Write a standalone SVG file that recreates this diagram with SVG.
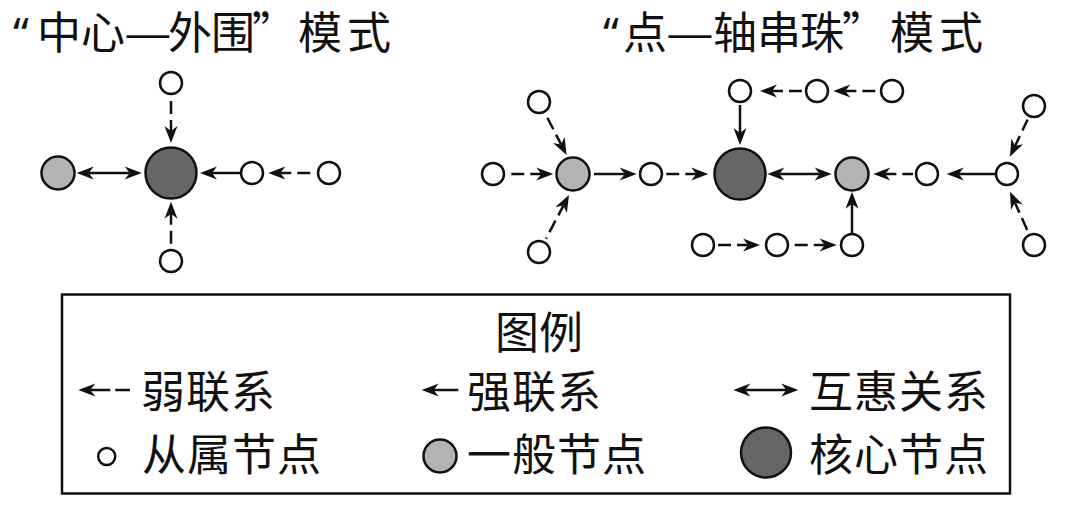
<svg xmlns="http://www.w3.org/2000/svg" width="1080" height="508" viewBox="0 0 1080 508">
<style>
text{font-family:"Noto Sans CJK SC","Noto Sans",sans-serif;fill:#111;font-size:44px}
text.lat{font-family:"Noto Sans","Liberation Sans",sans-serif}
.sub{fill:#fff;stroke:#111;stroke-width:2.5}
.gen{fill:#b3b3b3;stroke:#111;stroke-width:2.5}
.core{fill:#666;stroke:#111;stroke-width:2.5}
.strong{stroke:#111;stroke-width:2.5;fill:none;marker-end:url(#ah)}
.weak{stroke:#111;stroke-width:2.5;fill:none;stroke-dasharray:11 6 13 6;marker-start:url(#ah)}
.weak.key{stroke-dasharray:20 5 15 5}
.mutual{stroke:#111;stroke-width:2.5;fill:none;marker-start:url(#ah);marker-end:url(#ah)}
</style>
<defs>
<marker id="ah" markerUnits="userSpaceOnUse" viewBox="-6 -7 19 14" refX="0" refY="0" markerWidth="19" markerHeight="14" orient="auto-start-reverse">
<path d="M12,0 L-5,-6.5 L0,0 L-5,6.5 Z" fill="#111"/>
</marker>
</defs>
<rect width="1080" height="508" fill="#fff"/>

<g id="titles">
<text class="lat" x="13" y="49">“</text>
<text x="37 81" y="49">中心</text>
<text x="124" y="49" textLength="48" lengthAdjust="spacingAndGlyphs">—</text>
<text x="168 211 252 298 347" y="49">外围”模式</text>
<text class="lat" x="603" y="49">“</text>
<text x="623" y="49">点</text>
<text x="666" y="49" textLength="48" lengthAdjust="spacingAndGlyphs">—</text>
<text x="713 757 800 842 890 939" y="49">轴串珠”模式</text>
</g>

<g id="connectors">
<!-- left -->
<line class="weak" x1="171" y1="131" x2="171" y2="96"/>
<line class="weak" x1="171" y1="213.7" x2="171" y2="248"/>
<line class="weak" x1="280.3" y1="173" x2="316" y2="173"/>
<line class="strong" x1="240" y1="173" x2="212" y2="173"/>
<line class="mutual" x1="88.7" y1="173" x2="129.7" y2="173"/>
<!-- right -->
<line class="weak" x1="561.1" y1="144.4" x2="546" y2="115"/>
<line class="weak" x1="541.3" y1="174" x2="507" y2="174"/>
<line class="weak" x1="563.4" y1="205.6" x2="546" y2="238.7"/>
<line class="strong" x1="594" y1="174" x2="624.7" y2="174"/>
<line class="weak" x1="696.3" y1="174" x2="665" y2="174"/>
<line class="strong" x1="740" y1="105" x2="740" y2="133"/>
<line class="weak" x1="772" y1="91" x2="803" y2="91"/>
<line class="weak" x1="845.3" y1="91" x2="878" y2="91"/>
<line class="mutual" x1="779.3" y1="174" x2="819.7" y2="174"/>
<line class="weak" x1="885.3" y1="174" x2="913" y2="174"/>
<line class="strong" x1="995" y1="174" x2="958.7" y2="174"/>
<line class="weak" x1="1015.1" y1="145.9" x2="1027.6" y2="119.6"/>
<line class="weak" x1="1014.9" y1="202.6" x2="1027.8" y2="231.3"/>
<line class="weak" x1="748" y1="245" x2="717" y2="245"/>
<line class="weak" x1="824.7" y1="245" x2="791" y2="245"/>
<line class="strong" x1="852" y1="233" x2="852" y2="203.7"/>
</g>

<g id="L_top"><circle class="sub" cx="171" cy="83" r="11"/></g>
<g id="L_core"><circle class="core" cx="171" cy="173" r="25.5"/></g>
<g id="L_gen"><circle class="gen" cx="58" cy="173" r="16.5"/></g>
<g id="L_s1"><circle class="sub" cx="252" cy="173" r="11"/></g>
<g id="L_s2"><circle class="sub" cx="329" cy="173" r="11"/></g>
<g id="L_bottom"><circle class="sub" cx="171" cy="261" r="11"/></g>

<g id="R_tl"><circle class="sub" cx="539" cy="102" r="11"/></g>
<g id="R_l"><circle class="sub" cx="493" cy="174" r="11"/></g>
<g id="R_g1"><circle class="gen" cx="573" cy="174" r="16.5"/></g>
<g id="R_bl"><circle class="sub" cx="539" cy="252" r="11"/></g>
<g id="R_s"><circle class="sub" cx="651" cy="174" r="11"/></g>
<g id="R_core"><circle class="core" cx="740" cy="174" r="25.5"/></g>
<g id="R_t1"><circle class="sub" cx="740" cy="91" r="11"/></g>
<g id="R_t2"><circle class="sub" cx="817" cy="91" r="11"/></g>
<g id="R_t3"><circle class="sub" cx="892" cy="91" r="11"/></g>
<g id="R_g2"><circle class="gen" cx="852" cy="174" r="16.5"/></g>
<g id="R_s2"><circle class="sub" cx="927" cy="174" r="11"/></g>
<g id="R_j"><circle class="sub" cx="1007" cy="174" r="11"/></g>
<g id="R_tr"><circle class="sub" cx="1034" cy="106" r="11"/></g>
<g id="R_br"><circle class="sub" cx="1034" cy="245" r="11"/></g>
<g id="R_b1"><circle class="sub" cx="703" cy="245" r="11"/></g>
<g id="R_b2"><circle class="sub" cx="777" cy="245" r="11"/></g>
<g id="R_b3"><circle class="sub" cx="852" cy="245" r="11"/></g>

<g id="legend">
<rect x="62" y="294.5" width="948" height="199" fill="none" stroke="#111" stroke-width="2.5"/>
<text x="495" y="349">图例</text>
<line class="weak key" x1="90.3" y1="390" x2="130" y2="390"/>
<text x="141" y="408" letter-spacing="1">弱联系</text>
<line class="strong" x1="458.3" y1="390" x2="433.7" y2="390"/>
<text x="467" y="408" letter-spacing="1">强联系</text>
<line class="mutual" x1="745.3" y1="390" x2="786.3" y2="390"/>
<text x="809" y="408" letter-spacing="1">互惠关系</text>
<circle class="sub" cx="106.7" cy="456.5" r="8.5"/>
<text x="142" y="471" letter-spacing="1">从属节点</text>
<circle class="gen" cx="440" cy="456" r="16.5"/>
<text x="467" y="471" letter-spacing="1">一般节点</text>
<circle class="core" cx="766" cy="452.5" r="25"/>
<text x="809" y="471" letter-spacing="1">核心节点</text>
</g>
</svg>
